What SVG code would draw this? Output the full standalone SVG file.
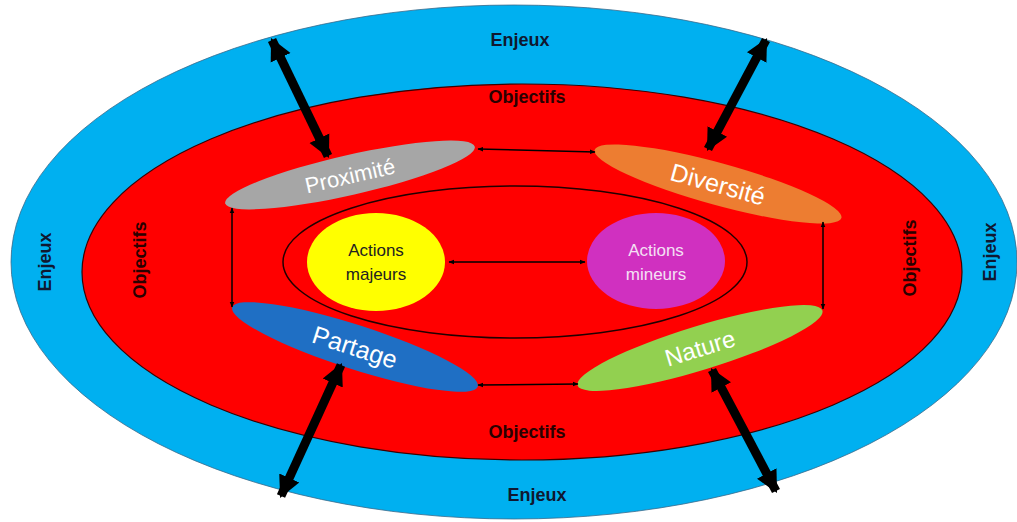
<svg xmlns="http://www.w3.org/2000/svg" width="1017" height="522" viewBox="0 0 1017 522">
<style>
.lbl{font-family:"Liberation Sans",Arial,sans-serif;font-weight:bold;font-size:18px;text-anchor:middle;dominant-baseline:central}
.enj{fill:#101830}
.obj{fill:#2a0000}
.pill{font-family:"Liberation Sans",Arial,sans-serif;font-size:24px;fill:#ffffff;text-anchor:middle;dominant-baseline:central}
.act{font-family:"Liberation Sans",Arial,sans-serif;font-size:17px;text-anchor:middle}
.thin{stroke:#000;stroke-width:1.5;fill:none;marker-start:url(#ts);marker-end:url(#te)}
.thick{stroke:#000;stroke-width:9;fill:none;marker-start:url(#Ks);marker-end:url(#Ke)}
</style>
<defs>
<marker id="te" viewBox="0 0 10 10" refX="9" refY="5" markerWidth="6" markerHeight="6" orient="auto" markerUnits="userSpaceOnUse"><path d="M0,1 L10,5 L0,9 z" fill="#000"/></marker>
<marker id="ts" viewBox="0 0 10 10" refX="1" refY="5" markerWidth="6" markerHeight="6" orient="auto" markerUnits="userSpaceOnUse"><path d="M10,1 L0,5 L10,9 z" fill="#000"/></marker>
<marker id="Ke" viewBox="0 0 10 10" refX="9" refY="5" markerWidth="22" markerHeight="24" orient="auto" markerUnits="userSpaceOnUse"><path d="M0,0 L10,5 L0,10 z" fill="#000"/></marker>
<marker id="Ks" viewBox="0 0 10 10" refX="1" refY="5" markerWidth="22" markerHeight="24" orient="auto" markerUnits="userSpaceOnUse"><path d="M10,0 L0,5 L10,10 z" fill="#000"/></marker>
</defs>
<g id="enjeux">
<ellipse cx="514" cy="262" rx="503" ry="257" fill="#00B0F0" stroke="#3a6a8a" stroke-width="0.8"/>
<text class="lbl enj" x="520" y="40">Enjeux</text>
<text class="lbl enj" x="537" y="495">Enjeux</text>
<text class="lbl enj" transform="translate(45,262) rotate(-90)">Enjeux</text>
<text class="lbl enj" transform="translate(990,252) rotate(-90)">Enjeux</text>
</g>
<g id="objectifs">
<ellipse cx="522" cy="272" rx="440" ry="188" fill="#FF0000" stroke="#3a0000" stroke-width="1.2"/>
<text class="lbl obj" x="527" y="97">Objectifs</text>
<text class="lbl obj" x="527" y="432">Objectifs</text>
<text class="lbl obj" transform="translate(140,260) rotate(-90)">Objectifs</text>
<text class="lbl obj" transform="translate(910,258) rotate(-90)">Objectifs</text>
</g>
<g id="actions-zone">
<ellipse cx="515" cy="262" rx="232" ry="76" fill="none" stroke="#200000" stroke-width="1.5"/>
</g>
<g id="actions-majeurs">
<ellipse cx="376" cy="262" rx="69" ry="49" fill="#FFFF00"/>
<text class="act" x="376" y="256" fill="#222">Actions</text>
<text class="act" x="376" y="280" fill="#222">majeurs</text>
</g>
<g id="actions-mineurs">
<ellipse cx="656" cy="261" rx="69" ry="48" fill="#D030C0"/>
<text class="act" x="656" y="256" fill="#f4e0f4">Actions</text>
<text class="act" x="656" y="280" fill="#f4e0f4">mineurs</text>
</g>
<g id="proximite">
<ellipse cx="0" cy="0" rx="128" ry="20" fill="#A6A6A6" transform="translate(350,175) rotate(-12.8)"/>
<text class="pill" style="font-size:22px" transform="translate(350,176) rotate(-12.8)">Proximité</text>
</g>
<g id="diversite">
<ellipse cx="0" cy="0" rx="128" ry="21" fill="#ED7D31" transform="translate(718,184) rotate(15.4)"/>
<text class="pill" style="font-size:25px" transform="translate(718,184) rotate(15.4)">Diversité</text>
</g>
<g id="partage">
<ellipse cx="0" cy="0" rx="129" ry="22" fill="#1F6FC4" transform="translate(355,347) rotate(17.9)"/>
<text class="pill" style="font-size:25px" transform="translate(355,347) rotate(17.9)">Partage</text>
</g>
<g id="nature">
<ellipse cx="0" cy="0" rx="128" ry="22" fill="#92D050" transform="translate(700,348) rotate(-17)"/>
<text class="pill" transform="translate(700,348) rotate(-17)">Nature</text>
</g>
<g id="connectors">
<line class="thin" x1="449" y1="262" x2="585" y2="262"/>
<line class="thin" x1="478" y1="149" x2="595" y2="152"/>
<line class="thin" x1="232" y1="208" x2="232" y2="307"/>
<line class="thin" x1="823" y1="222" x2="823" y2="309"/>
<line class="thin" x1="478" y1="385" x2="578" y2="384"/>
<line class="thick" x1="272" y1="40" x2="328" y2="156"/>
<line class="thick" x1="766" y1="40" x2="708" y2="149"/>
<line class="thick" x1="341" y1="365" x2="281" y2="496"/>
<line class="thick" x1="712" y1="370" x2="776" y2="491"/>
</g>
</svg>
